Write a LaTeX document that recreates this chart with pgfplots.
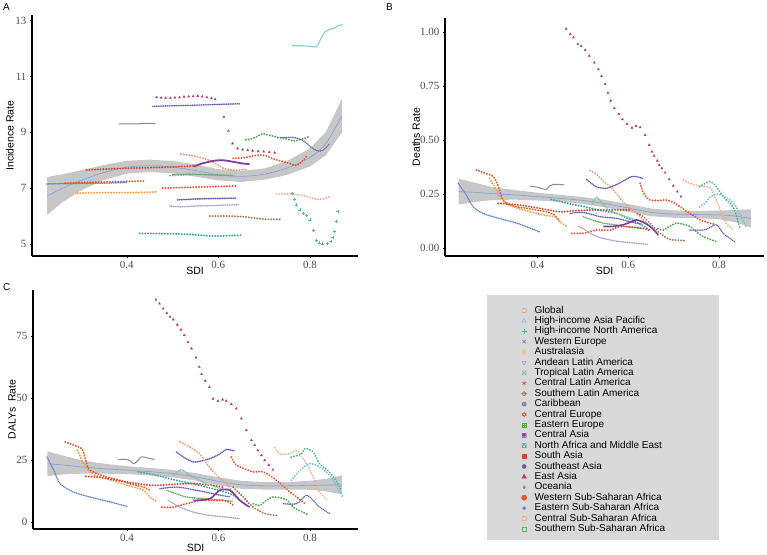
\documentclass[border=0pt]{standalone}
\usepackage{fontspec}
\setmainfont{Liberation Sans}
\newfontfamily\tnr{Liberation Serif}
\usepackage{pgfplots}
\pgfplotsset{compat=1.18}
\usetikzlibrary{plotmarks}

\definecolor{cGlobal}{HTML}{EE9572}
\definecolor{cHIAP}{HTML}{72C6D3}
\definecolor{cHINA}{HTML}{4FB98C}
\definecolor{cWE}{HTML}{6B6FA8}
\definecolor{cAUS}{HTML}{F2AE94}
\definecolor{cAND}{HTML}{A3A3C8}
\definecolor{cTLA}{HTML}{7FBFA5}
\definecolor{cCLA}{HTML}{E8503A}
\definecolor{cSLA}{HTML}{9C7A5C}
\definecolor{cCAR}{HTML}{5E5BB0}
\definecolor{cCEU}{HTML}{E4572E}
\definecolor{cEEU}{HTML}{4DA84D}
\definecolor{cCAS}{HTML}{7B3FA0}
\definecolor{cNAME}{HTML}{3DA593}
\definecolor{cSAS}{HTML}{D8452F}
\definecolor{cSEA}{HTML}{6A5BB0}
\definecolor{cEAS}{HTML}{B5406A}
\definecolor{cOCE}{HTML}{8A8A8A}
\definecolor{cWSSA}{HTML}{DF5A2C}
\definecolor{cESSA}{HTML}{5A86CC}
\definecolor{cCSSA}{HTML}{EE9E3E}
\definecolor{cSSSA}{HTML}{6AAE6A}
\definecolor{cFit}{HTML}{7F9FDB}

\pgfdeclareplotmark{boxtimes}{%
  \pgfpathrectangle{\pgfqpoint{-\pgfplotmarksize}{-\pgfplotmarksize}}{\pgfqpoint{2\pgfplotmarksize}{2\pgfplotmarksize}}%
  \pgfpathmoveto{\pgfqpoint{-\pgfplotmarksize}{-\pgfplotmarksize}}%
  \pgfpathlineto{\pgfqpoint{\pgfplotmarksize}{\pgfplotmarksize}}%
  \pgfpathmoveto{\pgfqpoint{-\pgfplotmarksize}{\pgfplotmarksize}}%
  \pgfpathlineto{\pgfqpoint{\pgfplotmarksize}{-\pgfplotmarksize}}%
  \pgfusepathqstroke}
\pgfdeclareplotmark{boxplus}{%
  \pgfpathrectangle{\pgfqpoint{-\pgfplotmarksize}{-\pgfplotmarksize}}{\pgfqpoint{2\pgfplotmarksize}{2\pgfplotmarksize}}%
  \pgfpathmoveto{\pgfqpoint{0pt}{-\pgfplotmarksize}}%
  \pgfpathlineto{\pgfqpoint{0pt}{\pgfplotmarksize}}%
  \pgfpathmoveto{\pgfqpoint{-\pgfplotmarksize}{0pt}}%
  \pgfpathlineto{\pgfqpoint{\pgfplotmarksize}{0pt}}%
  \pgfusepathqstroke}
\pgfdeclareplotmark{diamondplus}{%
  \pgfpathmoveto{\pgfqpoint{0pt}{\pgfplotmarksize}}%
  \pgfpathlineto{\pgfqpoint{\pgfplotmarksize}{0pt}}%
  \pgfpathlineto{\pgfqpoint{0pt}{-\pgfplotmarksize}}%
  \pgfpathlineto{\pgfqpoint{-\pgfplotmarksize}{0pt}}%
  \pgfpathclose
  \pgfpathmoveto{\pgfqpoint{0pt}{-\pgfplotmarksize}}%
  \pgfpathlineto{\pgfqpoint{0pt}{\pgfplotmarksize}}%
  \pgfpathmoveto{\pgfqpoint{-\pgfplotmarksize}{0pt}}%
  \pgfpathlineto{\pgfqpoint{\pgfplotmarksize}{0pt}}%
  \pgfusepathqstroke}
\pgfdeclareplotmark{davidstar}{%
  \pgfpathmoveto{\pgfqpoint{0pt}{\pgfplotmarksize}}%
  \pgfpathlineto{\pgfqpoint{.866\pgfplotmarksize}{-.5\pgfplotmarksize}}%
  \pgfpathlineto{\pgfqpoint{-.866\pgfplotmarksize}{-.5\pgfplotmarksize}}%
  \pgfpathclose
  \pgfpathmoveto{\pgfqpoint{0pt}{-\pgfplotmarksize}}%
  \pgfpathlineto{\pgfqpoint{.866\pgfplotmarksize}{.5\pgfplotmarksize}}%
  \pgfpathlineto{\pgfqpoint{-.866\pgfplotmarksize}{.5\pgfplotmarksize}}%
  \pgfpathclose
  \pgfusepathqstroke}
\pgfdeclareplotmark{boxotimes}{%
  \pgfpathrectangle{\pgfqpoint{-\pgfplotmarksize}{-\pgfplotmarksize}}{\pgfqpoint{2\pgfplotmarksize}{2\pgfplotmarksize}}%
  \pgfpathcircle{\pgfpointorigin}{.7\pgfplotmarksize}%
  \pgfpathmoveto{\pgfqpoint{-.5\pgfplotmarksize}{-.5\pgfplotmarksize}}%
  \pgfpathlineto{\pgfqpoint{.5\pgfplotmarksize}{.5\pgfplotmarksize}}%
  \pgfpathmoveto{\pgfqpoint{-.5\pgfplotmarksize}{.5\pgfplotmarksize}}%
  \pgfpathlineto{\pgfqpoint{.5\pgfplotmarksize}{-.5\pgfplotmarksize}}%
  \pgfusepathqstroke}
\pgfdeclareplotmark{boxtriangle}{%
  \pgfpathrectangle{\pgfqpoint{-\pgfplotmarksize}{-\pgfplotmarksize}}{\pgfqpoint{2\pgfplotmarksize}{2\pgfplotmarksize}}%
  \pgfpathmoveto{\pgfqpoint{0pt}{\pgfplotmarksize}}%
  \pgfpathlineto{\pgfqpoint{\pgfplotmarksize}{-\pgfplotmarksize}}%
  \pgfpathlineto{\pgfqpoint{-\pgfplotmarksize}{-\pgfplotmarksize}}%
  \pgfpathclose
  \pgfusepathqstroke}

\pgfplotsset{
  ser/.style={smooth, line width=2pt, dash pattern=on 0.2pt off 2.6pt, line cap=round},
  serd/.style={smooth, line width=1.6pt, dash pattern=on 0.2pt off 1.6pt, line cap=round},
  ears/.style={only marks, mark=triangle*, mark size=1.2pt},
  band/.style={fill=black!22, draw=none, forget plot},
  panel/.style={
    scale only axis,
    anchor=south west,
    axis x line*=bottom, axis y line*=left,
    axis line style={line width=1.5pt,-},
    tick style={black, line width=0.5pt},
    tick align=outside,
    major tick length=2pt,
    /pgf/number format/assume math mode=true,
    tick label style={font=\tnr\fontsize{11}{11}\selectfont, text=black!70},
    label style={font=\fontsize{10.5}{10.5}\selectfont},
    xtick={0.4,0.6,0.8},
    xticklabels={0.4,0.6,0.8},
    xlabel={SDI},
  },
}

\begin{document}
\begin{tikzpicture}
\path[use as bounding box] (0pt,0pt) rectangle (767pt,554pt);

\node[anchor=north west, font=\fontsize{10}{10}\selectfont, inner sep=0pt] at (3pt,551pt) {A};
\node[anchor=north west, font=\fontsize{10}{10}\selectfont, inner sep=0pt] at (386pt,551pt) {B};
\node[anchor=north west, font=\fontsize{10}{10}\selectfont, inner sep=0pt] at (3pt,271pt) {C};

% ---------------- Panel A ----------------
\begin{axis}[panel, at={(32pt,298pt)}, width=326pt, height=241pt,
  xmin=0.193, xmax=0.905, ymin=4.57, ymax=13.2, ytick={5,7,9,11,13},
  ylabel={Incidence Rate},
  xlabel style={at={(axis description cs:0.5,-0.062)}, anchor=center},
  ylabel style={at={(axis description cs:-0.0675,0.5)}, anchor=center}]
\addplot[band] coordinates {(0.226,7.40)(0.26,7.50)(0.3,7.64)(0.35,7.83)(0.4,7.98)(0.45,8.02)(0.5,7.97)(0.55,7.85)(0.6,7.68)(0.65,7.62)(0.7,7.70)(0.75,7.97)(0.8,8.42)(0.835,9.02)(0.87,10.2)
 (0.87,9.0)(0.835,8.18)(0.8,7.78)(0.75,7.47)(0.7,7.30)(0.65,7.22)(0.6,7.28)(0.55,7.41)(0.5,7.53)(0.45,7.58)(0.4,7.52)(0.35,7.29)(0.3,6.92)(0.26,6.50)(0.226,6.04)} -- cycle;
\addplot[smooth, cFit, line width=0.6pt] coordinates {(0.226,6.72)(0.26,7.0)(0.3,7.28)(0.35,7.56)(0.4,7.75)(0.45,7.8)(0.5,7.75)(0.55,7.63)(0.6,7.48)(0.65,7.42)(0.7,7.5)(0.75,7.72)(0.8,8.1)(0.835,8.6)(0.87,9.6)};
\addplot[serd, cHIAP] coordinates {(0.762,12.1)(0.775,12.1)(0.79,12.09)(0.805,12.07)(0.812,12.05)(0.818,12.15)(0.824,12.35)(0.832,12.58)(0.842,12.68)(0.852,12.72)(0.862,12.82)(0.870,12.85)};
\addplot[ears, cEAS] coordinates {(0.465,10.25)(0.475,10.24)(0.485,10.23)(0.495,10.23)(0.505,10.24)(0.515,10.25)(0.525,10.27)(0.535,10.28)(0.545,10.29)(0.555,10.3)(0.565,10.28)(0.575,10.25)(0.585,10.22)(0.593,10.18)(0.612,9.55)(0.622,9.05)(0.631,8.6)(0.642,8.42)(0.653,8.38)(0.664,8.36)(0.675,8.34)(0.687,8.32)(0.699,8.31)(0.711,8.29)(0.723,8.27)};
\addplot[serd, cCAR] coordinates {(0.457,9.93)(0.5,9.95)(0.55,9.97)(0.6,10.0)(0.647,10.02)};
\addplot[smooth, cOCE, line width=1pt] coordinates {(0.383,9.3)(0.40,9.3)(0.42,9.3)(0.44,9.32)(0.463,9.31)};
\addplot[ser, cEEU] coordinates {(0.66,8.73)(0.675,8.78)(0.69,8.9)(0.697,8.95)(0.71,8.9)(0.73,8.82)(0.75,8.76)(0.763,8.7)(0.78,8.74)(0.792,8.8)(0.80,8.87)};
\addplot[serd, cWE] coordinates {(0.737,8.81)(0.755,8.82)(0.77,8.8)(0.785,8.7)(0.8,8.5)(0.81,8.38)(0.821,8.32)(0.832,8.4)(0.843,8.6)};
\addplot[ser, cGlobal] coordinates {(0.518,8.22)(0.54,8.17)(0.56,8.1)(0.58,8.0)(0.595,7.88)(0.61,7.72)(0.625,7.66)(0.64,7.64)(0.66,7.67)};
\addplot[smooth, cCAS, line width=1.8pt] coordinates {(0.546,7.77)(0.56,7.86)(0.581,7.95)(0.595,7.99)(0.61,8.0)(0.63,7.95)(0.65,7.89)(0.668,7.86)};
\addplot[ser, cCEU] coordinates {(0.632,8.07)(0.65,8.08)(0.67,8.13)(0.69,8.19)(0.705,8.15)(0.72,8.05)(0.741,7.95)(0.757,7.88)(0.77,7.81)(0.782,7.95)(0.792,8.13)};
\addplot[ser, cSAS] coordinates {(0.312,7.65)(0.35,7.68)(0.40,7.71)(0.45,7.73)(0.50,7.76)(0.552,7.8)};
\addplot[ser, cTLA] coordinates {(0.494,7.45)(0.52,7.47)(0.55,7.5)(0.58,7.47)(0.61,7.45)(0.64,7.43)};
\addplot[serd, cSSSA] coordinates {(0.50,7.48)(0.53,7.5)(0.56,7.49)(0.59,7.47)(0.63,7.46)};
\addplot[serd, cESSA] coordinates {(0.225,7.15)(0.26,7.16)(0.30,7.17)(0.35,7.18)(0.40,7.2)};
\addplot[ser, cWSSA] coordinates {(0.265,7.18)(0.30,7.2)(0.35,7.22)(0.40,7.24)(0.44,7.26)};
\addplot[ser, cCSSA] coordinates {(0.292,6.82)(0.32,6.83)(0.36,6.84)(0.40,6.84)(0.44,6.85)(0.468,6.87)};
\addplot[ser, cCLA] coordinates {(0.478,7.0)(0.52,7.02)(0.56,7.04)(0.60,7.06)(0.639,7.08)};
\addplot[serd, cSEA, line width=1.8pt] coordinates {(0.511,6.58)(0.55,6.61)(0.6,6.63)(0.638,6.64)};
\addplot[serd, cAND] coordinates {(0.494,6.36)(0.52,6.33)(0.55,6.36)(0.60,6.38)(0.647,6.41)};
\addplot[ser, cSLA] coordinates {(0.581,6.0)(0.61,6.0)(0.64,5.99)(0.66,5.97)(0.683,5.92)(0.70,5.89)(0.734,5.88)};
\addplot[ser, cNAME] coordinates {(0.428,5.38)(0.48,5.37)(0.53,5.35)(0.581,5.29)(0.61,5.29)(0.63,5.3)(0.654,5.32)};
\addplot[ser, cAUS] coordinates {(0.727,6.79)(0.75,6.79)(0.77,6.77)(0.79,6.72)(0.814,6.6)(0.83,6.62)(0.843,6.7)};
\addplot[only marks, mark=+, mark size=1.5pt, cHINA, line width=0.6pt] coordinates {(0.762,6.82)(0.766,6.6)(0.77,6.4)(0.778,6.22)(0.785,6.1)(0.793,6.02)(0.8,5.86)(0.807,5.5)(0.814,5.14)(0.82,5.04)(0.828,5.0)(0.838,5.02)(0.846,5.08)(0.85,5.25)(0.853,5.44)(0.857,5.8)(0.861,6.16)};
\end{axis}

% ---------------- Panel B ----------------
\begin{axis}[panel, at={(445pt,298pt)}, width=319pt, height=238pt,
  xmin=0.196, xmax=0.899, ymin=-0.037, ymax=1.065, ytick={0,0.25,0.5,0.75,1},
  yticklabel style={/pgf/number format/.cd, fixed, fixed zerofill, precision=2},
  ylabel={Deaths Rate},
  xlabel style={at={(axis description cs:0.5,-0.063)}, anchor=center},
  ylabel style={at={(axis description cs:-0.0909,0.5)}, anchor=center}]
\addplot[band] coordinates {(0.226,0.321)(0.26,0.303)(0.3,0.282)(0.35,0.268)(0.4,0.256)(0.45,0.246)(0.5,0.236)(0.55,0.222)(0.6,0.203)(0.65,0.183)(0.7,0.174)(0.75,0.172)(0.8,0.173)(0.835,0.176)(0.87,0.179)
 (0.87,0.095)(0.835,0.120)(0.8,0.133)(0.75,0.138)(0.7,0.140)(0.65,0.147)(0.6,0.167)(0.55,0.188)(0.5,0.204)(0.45,0.214)(0.4,0.220)(0.35,0.224)(0.3,0.222)(0.26,0.213)(0.226,0.201)} -- cycle;
\addplot[smooth, cFit, line width=0.6pt] coordinates {(0.226,0.261)(0.26,0.258)(0.3,0.252)(0.35,0.246)(0.4,0.238)(0.45,0.23)(0.5,0.22)(0.55,0.205)(0.6,0.185)(0.65,0.165)(0.7,0.157)(0.75,0.155)(0.8,0.153)(0.835,0.148)(0.87,0.137)};
\addplot[ears, cEAS] coordinates {(0.463,1.015)(0.472,0.99)(0.479,0.975)(0.489,0.944)(0.496,0.935)(0.505,0.917)(0.514,0.89)(0.525,0.858)(0.534,0.827)(0.541,0.796)(0.549,0.759)(0.555,0.719)(0.561,0.682)(0.569,0.647)(0.579,0.62)(0.587,0.596)(0.597,0.574)(0.608,0.557)(0.617,0.565)(0.626,0.559)(0.637,0.523)(0.646,0.477)(0.652,0.446)(0.657,0.427)(0.664,0.404)(0.668,0.384)(0.674,0.369)(0.681,0.349)(0.69,0.318)(0.699,0.288)(0.708,0.261)(0.716,0.238)};
\addplot[serd, cCAR, line width=1.7pt] coordinates {(0.508,0.318)(0.518,0.3)(0.529,0.284)(0.54,0.278)(0.551,0.276)(0.565,0.285)(0.58,0.3)(0.593,0.315)(0.606,0.33)(0.62,0.33)(0.631,0.322)};
\addplot[ser, cCEU] coordinates {(0.626,0.30)(0.632,0.26)(0.64,0.235)(0.648,0.222)(0.665,0.22)(0.685,0.222)(0.70,0.21)(0.715,0.19)(0.73,0.168)(0.745,0.148)(0.76,0.128)(0.775,0.118)(0.79,0.11)};
\addplot[ser, cGlobal] coordinates {(0.516,0.358)(0.53,0.34)(0.545,0.31)(0.56,0.284)(0.575,0.25)(0.59,0.21)(0.604,0.184)(0.62,0.158)(0.633,0.13)(0.648,0.10)};
\addplot[ser, cAUS] coordinates {(0.721,0.315)(0.735,0.3)(0.751,0.29)(0.765,0.285)(0.78,0.28)(0.79,0.24)(0.80,0.19)(0.808,0.15)(0.816,0.114)(0.825,0.095)(0.834,0.083)};
\addplot[ser, cHINA] coordinates {(0.757,0.284)(0.77,0.3)(0.779,0.307)(0.787,0.3)(0.794,0.284)(0.805,0.25)(0.816,0.222)(0.825,0.205)(0.831,0.19)(0.838,0.15)(0.845,0.098)};
\addplot[ser, cHIAP] coordinates {(0.757,0.19)(0.77,0.21)(0.78,0.235)(0.794,0.25)(0.805,0.245)(0.816,0.235)(0.83,0.21)(0.838,0.19)(0.85,0.14)(0.86,0.098)};
\addplot[smooth, cOCE, line width=1pt] coordinates {(0.383,0.287)(0.40,0.281)(0.419,0.271)(0.425,0.285)(0.437,0.295)(0.459,0.292)};
\addplot[ser, cWSSA] coordinates {(0.265,0.361)(0.28,0.35)(0.296,0.338)(0.302,0.333)(0.311,0.3)(0.316,0.268)(0.326,0.215)(0.345,0.195)(0.375,0.184)(0.40,0.175)(0.419,0.168)(0.437,0.153)(0.45,0.12)};
\addplot[ser, cCSSA] coordinates {(0.294,0.323)(0.309,0.268)(0.316,0.238)(0.333,0.208)(0.355,0.185)(0.38,0.17)(0.399,0.16)(0.42,0.15)(0.437,0.145)(0.45,0.12)(0.463,0.102)};
\addplot[ser, cSAS] coordinates {(0.313,0.207)(0.36,0.199)(0.404,0.184)(0.448,0.168)(0.48,0.172)(0.52,0.176)(0.56,0.176)(0.604,0.176)};
\addplot[serd, cESSA] coordinates {(0.225,0.30)(0.243,0.245)(0.258,0.191)(0.28,0.16)(0.316,0.137)(0.36,0.111)(0.404,0.075)};
\addplot[ser, cNAME] coordinates {(0.43,0.225)(0.47,0.205)(0.507,0.19)(0.53,0.178)(0.574,0.16)(0.595,0.14)(0.618,0.121)(0.635,0.1)(0.648,0.083)};
\addplot[serd, cTLA] coordinates {(0.52,0.2)(0.53,0.235)(0.545,0.2)(0.56,0.172)(0.575,0.16)(0.595,0.145)(0.618,0.13)(0.64,0.115)};
\addplot[serd, cSEA] coordinates {(0.472,0.16)(0.50,0.165)(0.538,0.145)(0.575,0.137)(0.604,0.121)(0.63,0.11)};
\addplot[serd, cSSSA] coordinates {(0.501,0.145)(0.52,0.13)(0.545,0.115)(0.57,0.108)(0.589,0.10)(0.61,0.095)(0.633,0.09)};
\addplot[ser, cEEU] coordinates {(0.665,0.09)(0.677,0.083)(0.69,0.1)(0.706,0.115)(0.72,0.11)(0.736,0.1)(0.75,0.075)(0.765,0.053)(0.78,0.04)(0.794,0.03)};
\addplot[ser, cCLA] coordinates {(0.475,0.068)(0.50,0.068)(0.515,0.075)(0.53,0.083)(0.56,0.083)(0.575,0.095)(0.59,0.1)(0.618,0.095)(0.635,0.09)(0.648,0.08)};
\addplot[serd, cAND] coordinates {(0.49,0.10)(0.50,0.09)(0.516,0.068)(0.535,0.05)(0.56,0.037)(0.58,0.03)(0.604,0.025)(0.625,0.02)(0.644,0.017)};
\addplot[ser, cSLA] coordinates {(0.62,0.16)(0.633,0.145)(0.645,0.12)(0.662,0.083)(0.675,0.06)(0.691,0.04)(0.705,0.037)(0.725,0.034)};
\addplot[smooth, cCAS, line width=1.6pt] coordinates {(0.545,0.1)(0.565,0.1)(0.589,0.108)(0.605,0.12)(0.618,0.13)(0.632,0.12)(0.648,0.1)(0.658,0.08)(0.666,0.06)};
\addplot[serd, cWE] coordinates {(0.736,0.083)(0.75,0.083)(0.765,0.083)(0.775,0.09)(0.784,0.1)(0.794,0.108)(0.802,0.09)(0.809,0.068)(0.82,0.05)(0.834,0.03)};
\end{axis}

% ---------------- Panel C ----------------
\begin{axis}[panel, at={(33pt,25pt)}, width=325pt, height=239pt,
  xmin=0.1945, xmax=0.905, ymin=-2.8, ymax=93.5, ytick={0,25,50,75},
  ylabel={DALYs\ \ Rate},
  xlabel style={at={(axis description cs:0.5,-0.08)}, anchor=center},
  ylabel style={at={(axis description cs:-0.0646,0.5)}, anchor=center}]
\addplot[band] coordinates {(0.226,28.5)(0.26,26.8)(0.3,24.9)(0.35,23.5)(0.4,22.5)(0.45,21.8)(0.5,21.0)(0.55,19.7)(0.6,18.0)(0.65,16.6)(0.7,16.1)(0.75,16.1)(0.8,16.6)(0.835,17.4)(0.87,18.8)
 (0.87,11.2)(0.835,12.4)(0.8,13.0)(0.75,13.1)(0.7,13.1)(0.65,13.4)(0.6,14.8)(0.55,16.7)(0.5,18.0)(0.45,18.8)(0.4,19.3)(0.35,19.5)(0.3,19.5)(0.26,19.2)(0.226,18.5)} -- cycle;
\addplot[smooth, cFit, line width=0.6pt] coordinates {(0.226,23.5)(0.26,23.0)(0.3,22.2)(0.35,21.5)(0.4,20.9)(0.45,20.3)(0.5,19.5)(0.55,18.2)(0.6,16.4)(0.65,15.0)(0.7,14.6)(0.75,14.6)(0.8,14.8)(0.835,14.9)(0.87,15.0)};
\addplot[ears, cEAS] coordinates {(0.463,89.6)(0.471,88)(0.479,86)(0.487,84.2)(0.494,82.7)(0.501,81.6)(0.51,79.5)(0.518,77.5)(0.525,75.3)(0.533,72.5)(0.541,69.9)(0.551,66.3)(0.558,62.5)(0.563,59.6)(0.571,56.9)(0.58,54.4)(0.588,49.7)(0.599,48.8)(0.609,49.3)(0.617,48.8)(0.628,47.5)(0.639,45.7)(0.65,41.7)(0.661,37)(0.672,33)(0.679,31)(0.686,28.9)(0.694,26.9)(0.701,24.9)(0.71,23)(0.719,21.1)};
\addplot[ser, cWSSA] coordinates {(0.265,32.3)(0.283,31)(0.301,29.6)(0.308,26.2)(0.316,21.5)(0.334,19.5)(0.35,18.5)(0.37,17.5)(0.39,16.5)(0.407,15.4)(0.436,14.1)(0.45,12.8)};
\addplot[ser, cCSSA] coordinates {(0.292,28.9)(0.305,23.5)(0.323,19.5)(0.355,17.5)(0.38,16)(0.4,14.8)(0.436,12.8)(0.45,10.1)(0.465,8.1)};
\addplot[ser, cSAS] coordinates {(0.31,18.4)(0.34,18)(0.378,16.8)(0.41,15.8)(0.457,14.8)(0.5,15.2)(0.544,15.5)(0.588,14.8)(0.61,14)};
\addplot[serd, cESSA] coordinates {(0.225,26.2)(0.24,20.8)(0.254,15.4)(0.283,12.1)(0.319,10.1)(0.363,8.1)(0.4,6.3)};
\addplot[smooth, cOCE, line width=1pt] coordinates {(0.381,25.1)(0.395,25.3)(0.406,24.8)(0.415,23.5)(0.425,25)(0.432,26.3)(0.445,25.8)(0.46,25.2)};
\addplot[serd, cCAR, line width=1.7pt] coordinates {(0.508,28.2)(0.525,26)(0.545,24.2)(0.56,24.5)(0.574,25.1)(0.59,26.2)(0.603,27.5)(0.618,29.2)(0.636,28.6)};
\addplot[ser, cGlobal] coordinates {(0.516,32.3)(0.538,30.2)(0.559,27.5)(0.574,23.5)(0.596,18.8)(0.618,15.4)(0.639,10.1)(0.658,7.4)};
\addplot[ser, cCEU] coordinates {(0.628,26.2)(0.636,23.5)(0.647,22.2)(0.676,20.2)(0.698,20.2)(0.727,16.8)(0.756,12.1)(0.771,10.1)(0.789,7.4)};
\addplot[ser, cAUS] coordinates {(0.723,30)(0.734,27.5)(0.756,27.5)(0.771,28.9)(0.782,26.2)(0.793,23.5)(0.807,18.1)(0.818,12.8)(0.839,8.7)};
\addplot[ser, cHINA] coordinates {(0.759,26.2)(0.782,27.5)(0.789,29.6)(0.807,28.2)(0.821,23.5)(0.839,20.8)(0.857,16.8)(0.868,12.8)};
\addplot[ser, cHIAP] coordinates {(0.759,16.8)(0.778,20.8)(0.8,23.5)(0.821,22.2)(0.843,18.8)(0.857,14.8)(0.872,10.1)};
\addplot[ser, cNAME] coordinates {(0.425,20.2)(0.465,18.8)(0.508,16.8)(0.545,15.4)(0.588,13.4)(0.625,11.4)(0.647,9.0)};
\addplot[serd, cTLA] coordinates {(0.501,18.8)(0.519,21.1)(0.538,18.8)(0.574,15.4)(0.618,12.8)};
\addplot[serd, cSEA] coordinates {(0.472,13.4)(0.508,14.1)(0.552,12.8)(0.588,11.4)(0.625,10.1)};
\addplot[serd, cSSSA] coordinates {(0.487,12.8)(0.53,10.1)(0.574,9.4)(0.618,8.7)(0.632,8.1)};
\addplot[ser, cCLA] coordinates {(0.476,6.0)(0.501,6.0)(0.53,7.4)(0.559,8.7)(0.588,8.7)(0.618,8.4)(0.632,6.7)};
\addplot[serd, cAND] coordinates {(0.49,8.7)(0.516,6.0)(0.545,4.0)(0.581,2.7)(0.618,2.0)(0.647,1.3)};
\addplot[smooth, cCAS, line width=1.6pt] coordinates {(0.545,8.7)(0.581,9.4)(0.603,12.8)(0.625,12.8)(0.647,8.7)(0.668,6.0)};
\addplot[ser, cSLA] coordinates {(0.632,14.1)(0.654,10.1)(0.676,6.0)(0.702,3.4)(0.727,2.7)};
\addplot[ser, cEEU] coordinates {(0.676,7.4)(0.69,6.7)(0.705,8.7)(0.72,10.1)(0.749,9.0)(0.763,6.0)(0.795,3.1)};
\addplot[serd, cWE] coordinates {(0.742,7.4)(0.771,7.4)(0.792,10.8)(0.807,8.7)(0.821,6.0)(0.843,3.4)};
\end{axis}

% ---------------- Legend ----------------
\fill[black!15] (487pt,14pt) rectangle (719pt,259pt);
\begin{axis}[hide axis, scale only axis, width=232pt, height=245pt,
  at={(487pt,14pt)}, anchor=south west, xmin=0, xmax=1, ymin=0, ymax=1,
  legend image code/.code={\path[draw=none, fill=none] (0pt,-2.5pt) rectangle (8pt,2.5pt); \draw[#1, /tikz/only marks] plot coordinates {(4pt,0pt)};},
  legend style={at={(0.129,0.967)}, anchor=north west, draw=none, fill=none,
    font=\fontsize{10}{10}\selectfont, cells={anchor=west}, row sep=0pt,
    nodes={inner sep=0.5pt, text height=7.3pt, text depth=2.1pt},
    /tikz/every odd column/.append style={column sep=6pt}},
  legmk/.style={mark size=2.4pt, line width=0.55pt}]
\addlegendimage{legmk, mark=o, cGlobal}\addlegendentry{Global}
\addlegendimage{legmk, mark=triangle, cHIAP}\addlegendentry{High-income Asia Pacific}
\addlegendimage{legmk, mark=+, cHINA}\addlegendentry{High-income North America}
\addlegendimage{legmk, mark=x, cWE}\addlegendentry{Western Europe}
\addlegendimage{legmk, mark=diamond, cAUS}\addlegendentry{Australasia}
\addlegendimage{legmk, mark=triangle, mark options={rotate=180}, cAND}\addlegendentry{Andean Latin America}
\addlegendimage{legmk, mark=boxtimes, mark size=2pt, cTLA}\addlegendentry{Tropical Latin America}
\addlegendimage{legmk, mark=asterisk, cCLA}\addlegendentry{Central Latin America}
\addlegendimage{legmk, mark=diamondplus, cSLA}\addlegendentry{Southern Latin America}
\addlegendimage{legmk, mark=oplus, mark size=2pt, cCAR}\addlegendentry{Caribbean}
\addlegendimage{legmk, mark=davidstar, cCEU}\addlegendentry{Central Europe}
\addlegendimage{legmk, mark=boxplus, mark size=2pt, cEEU}\addlegendentry{Eastern Europe}
\addlegendimage{legmk, mark=boxotimes, mark size=2pt, cCAS}\addlegendentry{Central Asia}
\addlegendimage{legmk, mark=boxtriangle, mark size=2pt, cNAME}\addlegendentry{North Africa and Middle East}
\addlegendimage{legmk, mark=square*, mark size=2pt, cSAS}\addlegendentry{South Asia}
\addlegendimage{legmk, mark=*, mark size=2pt, cSEA}\addlegendentry{Southeast Asia}
\addlegendimage{legmk, mark=triangle*, mark size=2.6pt, cEAS}\addlegendentry{East Asia}
\addlegendimage{legmk, mark=diamond*, mark size=1.6pt, cOCE}\addlegendentry{Oceania}
\addlegendimage{legmk, mark=*, mark size=2.6pt, cWSSA}\addlegendentry{Western Sub-Saharan Africa}
\addlegendimage{legmk, mark=*, mark size=1.5pt, cESSA}\addlegendentry{Eastern Sub-Saharan Africa}
\addlegendimage{legmk, mark=o, cCSSA}\addlegendentry{Central Sub-Saharan Africa}
\addlegendimage{legmk, mark=square, mark size=2pt, cSSSA}\addlegendentry{Southern Sub-Saharan Africa}
\end{axis}
\end{tikzpicture}
\end{document}
